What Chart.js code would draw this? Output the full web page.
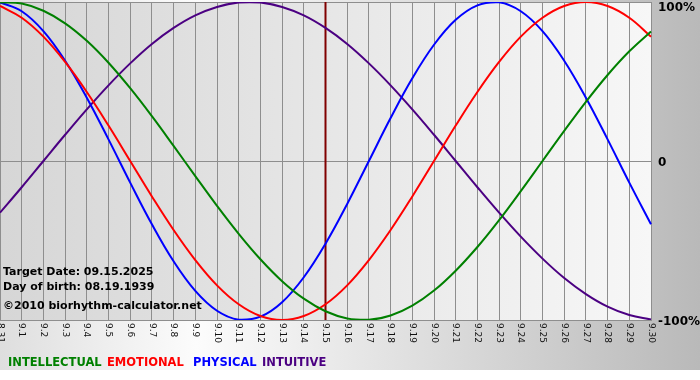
<!DOCTYPE html>
<html>
<head>
<meta charset="utf-8">
<script src="https://cdn.jsdelivr.net/npm/chart.js@4"></script>
<style>
  html, body { margin: 0; padding: 0; background: #fff; }
  #wrap { position: relative; width: 700px; height: 380px; }
  #wrap canvas { position: absolute; left: 0; top: 0; }
  .info { position: absolute; left: 3px; font: bold 11px "DejaVu Sans", sans-serif; line-height: 13px; color: #000; white-space: nowrap; }
  .leg { position: absolute; top: 356px; font: bold 11.5px "DejaVu Sans", sans-serif; line-height: 13px; white-space: nowrap; }
</style>
</head>
<body>
<div id="wrap">
  <canvas id="c" width="700" height="380"></canvas>
  <div class="info" style="top:265px">Target Date: 09.15.2025</div>
  <div class="info" style="top:280px">Day of birth: 08.19.1939</div>
  <div class="info" style="top:299px">©2010 biorhythm-calculator.net</div>
  <div class="leg" style="left:8px;color:#008000">INTELLECTUAL</div>
  <div class="leg" style="left:107px;color:#ff0000">EMOTIONAL</div>
  <div class="leg" style="left:193px;color:#0000ff">PHYSICAL</div>
  <div class="leg" style="left:262px;color:#4b0082">INTUITIVE</div>
</div>
<script>
const dayLabels = ['8.31','9.1','9.2','9.3','9.4','9.5','9.6','9.7','9.8','9.9','9.10','9.11','9.12','9.13','9.14','9.15','9.16','9.17','9.18','9.19','9.20','9.21','9.22','9.23','9.24','9.25','9.26','9.27','9.28','9.29','9.30'];
const intellectual = [99.9, 99.0, 94.5, 86.6, 75.6, 61.8, 45.8, 28.2, 9.5, -9.5, -28.2, -45.8, -61.8, -75.6, -86.6, -94.5, -99.0, -99.9, -97.2, -91.0, -81.5, -69.0, -54.1, -37.2, -18.9, 0, 18.9, 37.2, 54.1, 69.0, 81.5];
const emotional = [97.5, 90.1, 78.2, 62.3, 43.4, 22.3, 0, -22.3, -43.4, -62.3, -78.2, -90.1, -97.5, -100, -97.5, -90.1, -78.2, -62.3, -43.4, -22.3, 0, 22.3, 43.4, 62.3, 78.2, 90.1, 97.5, 100, 97.5, 90.1, 78.2];
const physical = [99.8, 94.2, 81.7, 63.1, 39.8, 13.6, -13.6, -39.8, -63.1, -81.7, -94.2, -99.8, -97.9, -88.8, -73.1, -52.0, -27.0, 0, 27.0, 52.0, 73.1, 88.8, 97.9, 99.8, 94.2, 81.7, 63.1, 39.8, 13.6, -13.6, -39.8];
const intuitive = [-32.5, -16.5, 0, 16.5, 32.5, 47.6, 61.4, 73.6, 83.7, 91.6, 96.9, 99.7, 99.7, 96.9, 91.6, 83.7, 73.6, 61.4, 47.6, 32.5, 16.5, 0, -16.5, -32.5, -47.6, -61.4, -73.6, -83.7, -91.6, -96.9, -99.7];
const yTickValues = [100, 0, -100];
const yTickLabels = ['100%', '0', '-100%'];
const targetLabel = '9.15';

const gridColor = '#8e8e8e';

const decor = {
  id: 'decor',
  beforeDraw(chart) {
    const ctx = chart.ctx, a = chart.chartArea;
    ctx.save();
    const g = ctx.createLinearGradient(0, 0, 700, 0);
    g.addColorStop(0, '#dedede');
    g.addColorStop(0.28, '#fcfcfc');
    g.addColorStop(1, '#b9b9b9');
    ctx.fillStyle = g;
    ctx.fillRect(0, 0, 700, 370);
    ctx.fillStyle = '#ffffff';
    ctx.fillRect(0, 370, 700, 10);
    const pg = ctx.createLinearGradient(a.left, 0, a.right, 0);
    pg.addColorStop(0, '#d6d6d6');
    pg.addColorStop(1, '#f7f7f7');
    ctx.fillStyle = pg;
    ctx.fillRect(a.left, a.top, a.right - a.left, a.bottom - a.top);
    ctx.restore();
  },
  beforeDatasetsDraw(chart) {
    const ctx = chart.ctx, a = chart.chartArea, xs = chart.scales.x;
    const x = xs.getPixelForValue(dayLabels.indexOf(targetLabel));
    ctx.save();
    ctx.strokeStyle = '#800000';
    ctx.lineWidth = 2;
    ctx.beginPath();
    ctx.moveTo(x, a.top);
    ctx.lineTo(x, a.bottom);
    ctx.stroke();
    ctx.restore();
  },
  afterDraw(chart) {
    const ctx = chart.ctx, a = chart.chartArea, xs = chart.scales.x, ys = chart.scales.y;
    ctx.save();
    ctx.fillStyle = '#111';
    ctx.font = '9px "DejaVu Sans"';
    ctx.textAlign = 'left';
    ctx.textBaseline = 'middle';
    dayLabels.forEach((lab, i) => {
      const x = xs.getPixelForTick(i);
      ctx.save();
      ctx.translate(x, a.bottom + 3);
      ctx.rotate(Math.PI / 2);
      ctx.fillText(lab, 0, 0);
      ctx.restore();
    });
    ctx.font = 'bold 12px "DejaVu Sans"';
    ctx.fillStyle = '#000';
    yTickValues.forEach((v, i) => {
      const y = Math.max(ys.getPixelForValue(v) + 1.5, 8);
      ctx.fillText(yTickLabels[i], a.right + 7, y);
    });
    ctx.restore();
  }
};

const mk = (label, data, color) => ({
  label, data, borderColor: color, backgroundColor: color,
  borderWidth: 2, pointRadius: 0, tension: 0.4, fill: false
});

new Chart(document.getElementById('c'), {
  type: 'line',
  data: {
    labels: dayLabels,
    datasets: [
      mk('INTELLECTUAL', intellectual, '#008000'),
      mk('EMOTIONAL', emotional, '#ff0000'),
      mk('PHYSICAL', physical, '#0000ff'),
      mk('INTUITIVE', intuitive, '#4b0082')
    ]
  },
  options: {
    responsive: false,
    animation: false,
    devicePixelRatio: 1,
    layout: { padding: { top: 2, left: 0, right: 0, bottom: 0 } },
    plugins: { legend: { display: false }, tooltip: { enabled: false } },
    scales: {
      x: {
        type: 'category',
        offset: false,
        grid: { color: gridColor, lineWidth: 1, drawTicks: false },
        border: { color: gridColor },
        ticks: { display: false },
        afterFit(s) { s.height = 60; s.paddingLeft = 0; s.paddingRight = 0; }
      },
      y: {
        position: 'right',
        min: -100, max: 100,
        grid: { color: gridColor, lineWidth: 1, drawTicks: false },
        border: { color: gridColor },
        ticks: { display: false, stepSize: 100 },
        afterFit(s) { s.width = 49; s.paddingTop = 0; s.paddingBottom = 0; }
      }
    }
  },
  plugins: [decor]
});
</script>
</body>
</html>
